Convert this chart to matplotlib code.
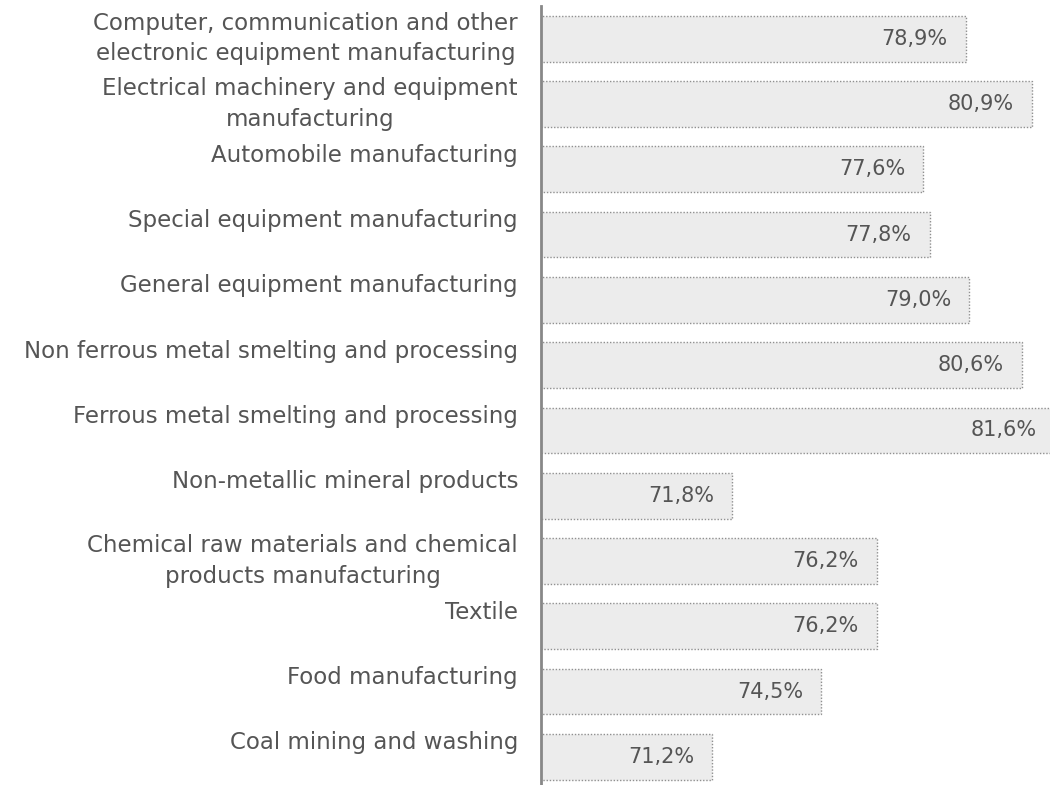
import matplotlib
matplotlib.use("Agg")
import matplotlib.pyplot as plt
from matplotlib.transforms import ScaledTranslation, blended_transform_factory

categories = [
    "Computer, communication and other\nelectronic equipment manufacturing",
    "Electrical machinery and equipment\nmanufacturing",
    "Automobile manufacturing",
    "Special equipment manufacturing",
    "General equipment manufacturing",
    "Non ferrous metal smelting and processing",
    "Ferrous metal smelting and processing",
    "Non-metallic mineral products",
    "Chemical raw materials and chemical\nproducts manufacturing",
    "Textile",
    "Food manufacturing",
    "Coal mining and washing",
]
values = [78.9, 80.9, 77.6, 77.8, 79.0, 80.6, 81.6, 71.8, 76.2, 76.2, 74.5, 71.2]

TEXT = "#555555"
plt.rcParams["font.family"] = ["DejaVu Sans"]

fig = plt.figure(figsize=(10.5, 7.85), dpi=100)
ax = fig.add_axes([541 / 1050, 0, 1 - 541 / 1050, (785 - 6) / 785])

pos = list(range(len(categories)))
ax.barh(pos, values, height=0.70, left=0, color="#ececec",
        edgecolor="#909090", linewidth=1.0, linestyle=(0, (1, 1.3)))

for y, v in zip(pos, values):
    ax.text(v - 0.55, y, f"{v:.1f}%".replace(".", ","), ha="right",
            va="center", fontsize=15, color=TEXT)

ax.set_xlim(66, 81.45)
ax.set_ylim(11.43, -0.5)

# category labels: single-line ones sit slightly above the bar centre
base = blended_transform_factory(ax.transAxes, ax.transData)
for y, c in zip(pos, categories):
    dy = 0.0 if "\n" in c else 14 / 100
    tr = base + ScaledTranslation(-23 / 100, dy, fig.dpi_scale_trans)
    ax.text(0, y, c, transform=tr, ha="right", va="center",
            multialignment="center", linespacing=1.4,
            fontsize=16.5, color=TEXT)

ax.set_yticks([])
ax.set_xticks([])

for s in ["top", "right", "bottom"]:
    ax.spines[s].set_visible(False)
ax.spines["left"].set_color("#888888")
ax.spines["left"].set_linewidth(2.0)
ax.patch.set_alpha(0)

fig.savefig("out.png", dpi=100)
